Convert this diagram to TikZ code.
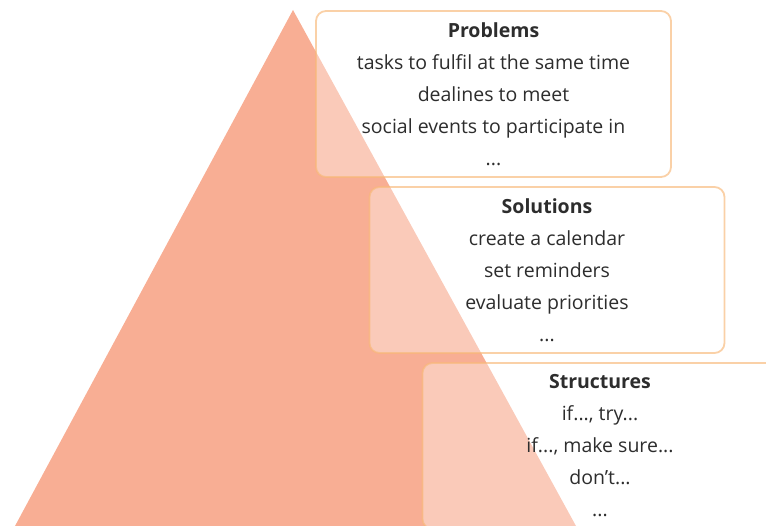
\documentclass[tikz,border=0pt]{standalone}
\usepackage{fontspec}
\setmainfont{Open Sans}
\usepackage{xcolor}
\usetikzlibrary{positioning}
\definecolor{pyramid}{RGB}{248,174,148}
\definecolor{boxline}{RGB}{248,184,120}
\definecolor{boxtext}{RGB}{45,45,45}

\begin{document}
\begin{tikzpicture}[x=1pt, y=-1pt,
    levelbox/.style={draw=boxline, draw opacity=0.65, line width=1.8pt,
        fill=white, fill opacity=0.35, text opacity=1, rounded corners=10pt,
        minimum width=355pt, minimum height=166pt, inner sep=0pt,
        align=center, text=boxtext, font=\fontsize{19.5}{32}\selectfont}]
    \useasboundingbox (0,0) rectangle (766,526);

    % Pyramid
    \fill[pyramid] (293,10) -- (576,526) -- (15,526) -- cycle;

    % Level boxes
    \node[levelbox] (problems) at (493.5,94)
        {\textbf{Problems}\\tasks to fulfil at the same time\\dealines to meet\\social events to participate in\\...};
    \node[levelbox] (solutions) at (547,270)
        {\textbf{Solutions}\\create a calendar\\set reminders\\evaluate priorities\\...};
    \node[levelbox] (structures) at (600,446)
        {\textbf{Structures}\\if..., try...\\if..., make sure...\\don’t...\\...};
\end{tikzpicture}
\end{document}
